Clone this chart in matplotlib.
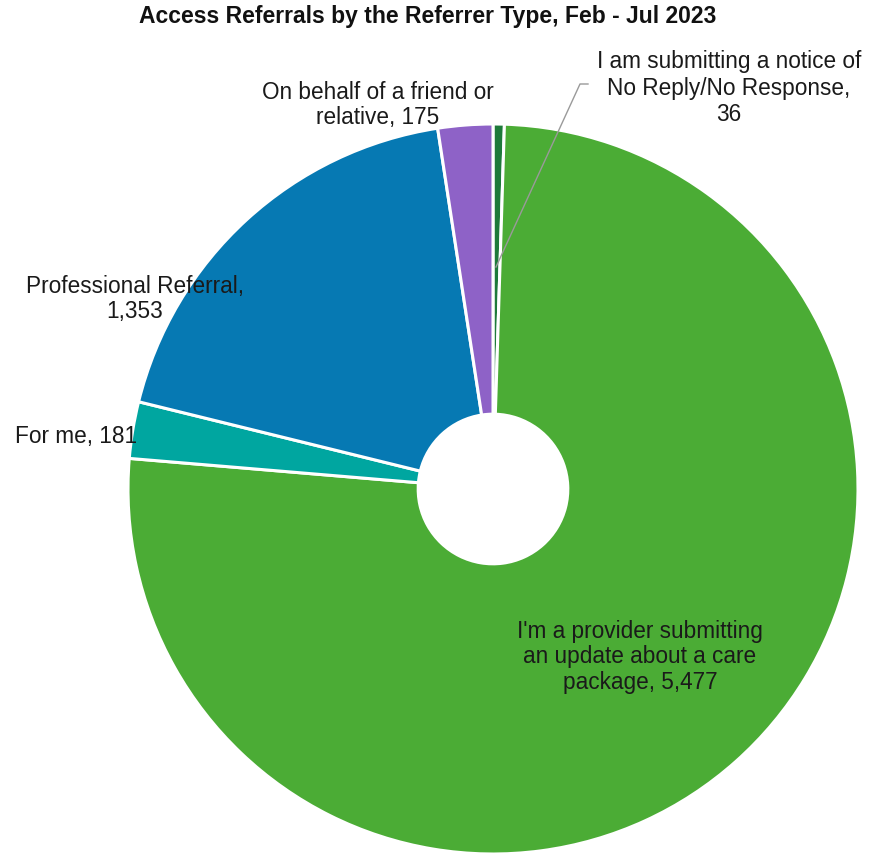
import matplotlib
matplotlib.use("Agg")
import matplotlib.pyplot as plt

# referral counts, clockwise from 12 o'clock
labels = ["I am submitting a notice of\nNo Reply/No Response,\n36",
          "I'm a provider submitting\nan update about a care\npackage, 5,477",
          "For me, 181",
          "Professional Referral,\n1,353",
          "On behalf of a friend or\nrelative, 175"]
counts = [36, 5477, 181, 1353, 175]
colors = ["#1E7A3A", "#4BAC35", "#00A6A0", "#0679B3", "#8E62C7"]

W, H = 869, 854
fig = plt.figure(figsize=(W / 100, H / 100), dpi=100)
ax = fig.add_axes([0, 0, 1, 1])

cx, cy, r = 493, 854 - 490, 365
ax.pie(counts, colors=colors, startangle=90, counterclock=False,
       center=(cx, cy), radius=r, frame=True,
       wedgeprops=dict(width=r * 0.795, edgecolor="white", linewidth=2.2))
ax.set_xlim(0, W)
ax.set_ylim(0, H)
ax.set_aspect("equal")
ax.axis("off")

font = ["Liberation Sans", "DejaVu Sans"]
tc = "#1a1a1a"
fs = 16.3

# leader line for the tiny slice
ax.plot([588, 580, 496], [769, 769, 586], color="#9a9a9a", lw=1)

ax.text(729, 766, labels[0], ha="center", va="center", fontsize=fs,
        family=font, color=tc, linespacing=1.2)
ax.text(640, 197, labels[1], ha="center", va="center", fontsize=fs,
        family=font, color=tc, linespacing=1.15)
ax.text(15, 417, labels[2], ha="left", va="center", fontsize=fs,
        family=font, color=tc)
ax.text(135, 555, labels[3], ha="center", va="center", fontsize=fs,
        family=font, color=tc, linespacing=1.12)
ax.text(378, 749, labels[4], ha="center", va="center", fontsize=fs,
        family=font, color=tc, linespacing=1.12)

ax.text(428, 837, "Access Referrals by the Referrer Type, Feb - Jul 2023",
        ha="center", va="center", fontsize=16.5, fontweight="bold",
        family=font, color="#111111")

fig.savefig("out.png", dpi=100)
